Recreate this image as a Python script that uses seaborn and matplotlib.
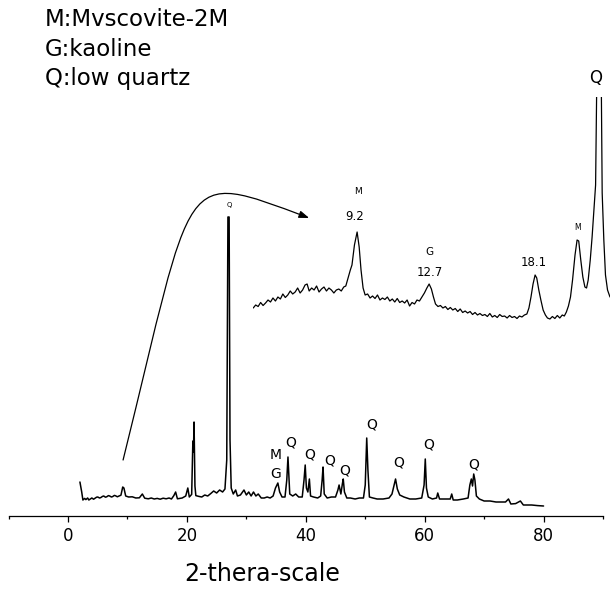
import matplotlib
matplotlib.use('Agg')
import matplotlib.pyplot as plt
import seaborn as sns
from matplotlib.patches import FancyArrowPatch
from matplotlib.path import Path

# main XRD trace (2-theta in degrees, counts)
theta_main = [2.0, 2.3, 2.5, 2.8, 3.0, 3.3, 3.5, 3.8, 4.0, 4.3,
              4.5, 4.8, 5.0, 5.3, 5.5, 5.8, 6.0, 6.3, 6.5, 6.8,
              7.0, 7.3, 7.5, 7.8, 8.0, 8.3, 8.5, 8.9, 9.2, 9.4,
              9.7, 10.2, 10.8, 11.4, 12.0, 12.5, 12.9, 13.5, 14.0, 14.5,
              15.0, 15.5, 16.0, 16.5, 17.0, 17.4, 17.8, 18.1, 18.4, 19.2,
              19.8, 20.15, 20.4, 20.8, 21.0, 21.1, 21.2, 21.35, 21.5, 22.0,
              22.5, 23.0, 23.5, 24.0, 24.5, 25.0, 25.5, 26.0, 26.4, 26.7,
              26.9, 27.1, 27.25, 27.45, 27.8, 28.2, 28.5, 29.0, 29.6, 30.0,
              30.4, 30.8, 31.2, 31.6, 32.0, 32.5, 33.0, 33.5, 34.0, 34.5,
              34.9, 35.3, 35.6, 36.0, 36.5, 36.8, 37.0, 37.15, 37.3, 37.8,
              38.3, 38.8, 39.4, 39.7, 39.9, 40.1, 40.35, 40.6, 40.8, 41.3,
              42.0, 42.5, 42.75, 42.9, 43.1, 43.6, 44.3, 45.0, 45.4, 45.6,
              45.9, 46.15, 46.3, 46.5, 46.9, 47.5, 48.3, 49.0, 49.7, 50.0,
              50.25, 50.45, 50.7, 51.3, 52.0, 53.0, 54.0, 54.5, 54.9, 55.1,
              55.4, 55.8, 56.5, 57.5, 58.5, 59.5, 59.9, 60.1, 60.3, 60.6,
              61.3, 62.0, 62.2, 62.5, 63.5, 64.3, 64.55, 64.8, 65.5, 66.5,
              67.3, 67.6, 67.85, 68.05, 68.25, 68.45, 68.7, 69.2, 70.0, 71.0,
              72.0, 73.0, 73.6, 74.1, 74.5, 75.3, 76.1, 76.6, 78.0, 79.0,
              80.0]
counts_main = [170, 120, 80, 88, 82, 90, 80, 86, 90, 84,
               88, 94, 95, 90, 92, 98, 100, 94, 96, 102,
               100, 95, 97, 103, 101, 96, 99, 104, 145, 140,
               100, 95, 96, 90, 91, 110, 89, 86, 90, 85,
               88, 84, 89, 86, 90, 85, 102, 120, 86, 90,
               100, 140, 95, 108, 375, 320, 470, 150, 102, 98,
               95, 105, 100, 112, 125, 115, 130, 120, 135, 280,
               1495, 1495, 380, 140, 110, 130, 100, 105, 130, 105,
               120, 100, 120, 100, 110, 90, 90, 95, 90, 100,
               140, 165, 120, 95, 95, 180, 295, 205, 110, 100,
               110, 95, 95, 180, 255, 140, 120, 185, 100, 95,
               90, 100, 180, 245, 110, 90, 95, 95, 130, 155,
               110, 160, 185, 120, 90, 90, 85, 90, 90, 155,
               390, 230, 95, 90, 85, 85, 90, 110, 160, 185,
               135, 105, 95, 85, 85, 90, 155, 285, 140, 95,
               85, 90, 115, 85, 85, 85, 110, 80, 80, 85,
               90, 155, 185, 150, 210, 180, 100, 85, 75, 75,
               70, 70, 70, 85, 60, 62, 75, 55, 55, 52,
               50]

# enlarged low-angle part (inset)
theta_inset = [4.16, 4.28, 4.40, 4.52, 4.64, 4.76, 4.88, 5.00, 5.12, 5.24,
               5.36, 5.48, 5.60, 5.72, 5.84, 5.96, 6.08, 6.20, 6.32, 6.44,
               6.56, 6.68, 6.78, 6.88, 7.00, 7.12, 7.24, 7.36, 7.48, 7.60,
               7.72, 7.84, 7.96, 8.08, 8.20, 8.32, 8.44, 8.56, 8.66, 8.77,
               8.88, 8.96, 9.08, 9.21, 9.31, 9.40, 9.50, 9.60, 9.72, 9.84,
               9.96, 10.08, 10.20, 10.32, 10.44, 10.56, 10.68, 10.80, 10.92, 11.04,
               11.16, 11.28, 11.40, 11.52, 11.64, 11.76, 11.88, 12.00, 12.12, 12.24,
               12.36, 12.48, 12.60, 12.71, 12.82, 12.92, 13.02, 13.14, 13.26, 13.38,
               13.50, 13.62, 13.74, 13.86, 13.98, 14.10, 14.22, 14.34, 14.46, 14.58,
               14.70, 14.82, 14.94, 15.06, 15.18, 15.30, 15.42, 15.54, 15.66, 15.78,
               15.90, 16.02, 16.14, 16.26, 16.38, 16.50, 16.62, 16.74, 16.86, 16.98,
               17.10, 17.22, 17.34, 17.46, 17.56, 17.66, 17.76, 17.86, 17.94, 18.04,
               18.14, 18.25, 18.36, 18.46, 18.58, 18.70, 18.82, 18.94, 19.06, 19.18,
               19.28, 19.38, 19.48, 19.58, 19.68, 19.80, 19.90, 19.98, 20.08, 20.18,
               20.28, 20.36, 20.44, 20.54, 20.63, 20.72, 20.80, 20.88, 21.06, 21.12,
               21.20, 21.28, 21.38, 21.50]
counts_inset = [44, 50, 47, 55, 49, 54, 60, 56, 64, 58,
                66, 62, 72, 65, 70, 78, 72, 76, 84, 74,
                80, 90, 92, 78, 84, 80, 88, 76, 82, 86,
                78, 84, 80, 74, 80, 82, 78, 86, 88, 104,
                120, 130, 170, 196, 166, 120, 84, 70, 72, 64,
                68, 63, 70, 60, 64, 61, 66, 58, 62, 56,
                63, 55, 58, 54, 60, 48, 55, 52, 60, 58,
                66, 74, 84, 92, 82, 66, 52, 47, 49, 44,
                47, 41, 45, 40, 43, 37, 42, 35, 38, 34,
                37, 31, 35, 30, 33, 29, 31, 27, 33, 26,
                29, 25, 31, 27, 28, 24, 29, 25, 27, 23,
                28, 26, 30, 32, 44, 66, 92, 110, 104, 80,
                60, 40, 30, 24, 22, 27, 23, 29, 24, 30,
                28, 36, 48, 66, 100, 150, 180, 178, 140, 106,
                86, 84, 100, 140, 186, 240, 290, 580, 580, 274,
                180, 110, 80, 66]

main_labels = ['M', 'G', 'Q', 'Q', 'Q', 'Q', 'Q', 'Q', 'Q', 'Q']
main_label_x = [35.0, 35.0, 37.4, 40.7, 44.1, 46.6, 51.1, 55.6, 60.6, 68.2]
main_label_y = [305, 210, 365, 310, 280, 225, 460, 270, 360, 255]

inset_labels = ['M', '9.2', 'G', '12.7', '18.1']
inset_label_x = [9.25, 9.11, 12.71, 12.76, 17.81]
inset_label_y = [278, 226, 156, 114, 136]
inset_label_size = [6.5, 8.5, 7.5, 8.5, 8.5]

legend_lines = ['M:Mvscovite-2M', 'G:kaoline', 'Q:low quartz']

sns.set_style('white')
plt.rcParams['font.family'] = ['DejaVu Sans']
plt.rcParams['text.color'] = 'black'
plt.rcParams['xtick.color'] = 'black'

fig = plt.figure(figsize=(6.1, 5.92), dpi=100)
ax = fig.add_axes([8.6 / 610, 76 / 592, 594.4 / 610, 516 / 592])
sns.lineplot(x=theta_main, y=counts_main, ax=ax, color='black', lw=1.1)
ax.set_xlim(-10, 90)
ax.set_ylim(0, 2580)
ax.set_xticks([0, 20, 40, 60, 80])
ax.set_xticks(range(-10, 91, 20), minor=True)
ax.tick_params(axis='x', which='major', direction='out', length=4.2, width=0.9,
               pad=3.5, labelsize=12, bottom=True, colors='black')
ax.tick_params(axis='x', which='minor', direction='out', length=2.4, width=0.9,
               bottom=True, colors='black')
ax.set_yticks([])
ax.set_xlabel('')
ax.set_ylabel('')
for side in ['left', 'right', 'top']:
    ax.spines[side].set_visible(False)
ax.spines['bottom'].set_color('black')
ax.spines['bottom'].set_linewidth(0.9)

for txt, x, y in zip(main_labels, main_label_x, main_label_y):
    ax.text(x, y, txt, ha='center', va='center', fontsize=10)
ax.text(27.1, 1555, 'Q', ha='center', va='center', fontsize=5)

# curved arrow from the low-angle region up to the enlarged trace
arrow_path = Path([(9.26, 280), (21.38, 1735), (18.52, 1735), (40.57, 1490)],
                  [Path.MOVETO, Path.CURVE4, Path.CURVE4, Path.CURVE4])
ax.add_patch(FancyArrowPatch(path=arrow_path, transform=ax.transData,
                             arrowstyle='-|>,head_length=0.5,head_width=0.18',
                             mutation_scale=12, color='black', lw=0.9))

axi = fig.add_axes([253 / 610, 262 / 592, 357 / 610, 233 / 592])
sns.lineplot(x=theta_inset, y=counts_inset, ax=axi, color='black', lw=0.9)
axi.set_xlim(4.15, 21.5)
axi.set_ylim(0, 466)
axi.axis('off')
for txt, x, y, s in zip(inset_labels, inset_label_x, inset_label_y, inset_label_size):
    axi.text(x, y, txt, ha='center', va='center', fontsize=s)
axi.text(19.9, 204, 'M', ha='center', va='center', fontsize=5.5)
axi.text(20.78, 504, 'Q', ha='center', va='center', fontsize=12)

for i, line in enumerate(legend_lines):
    fig.text(45 / 610, 1 - (26 + 29.5 * i) / 592, line, ha='left', va='baseline', fontsize=16.5)

fig.text(262 / 610, 1 - 574 / 592, '2-thera-scale', ha='center', va='center', fontsize=17)

fig.savefig('out.png', dpi=100)
